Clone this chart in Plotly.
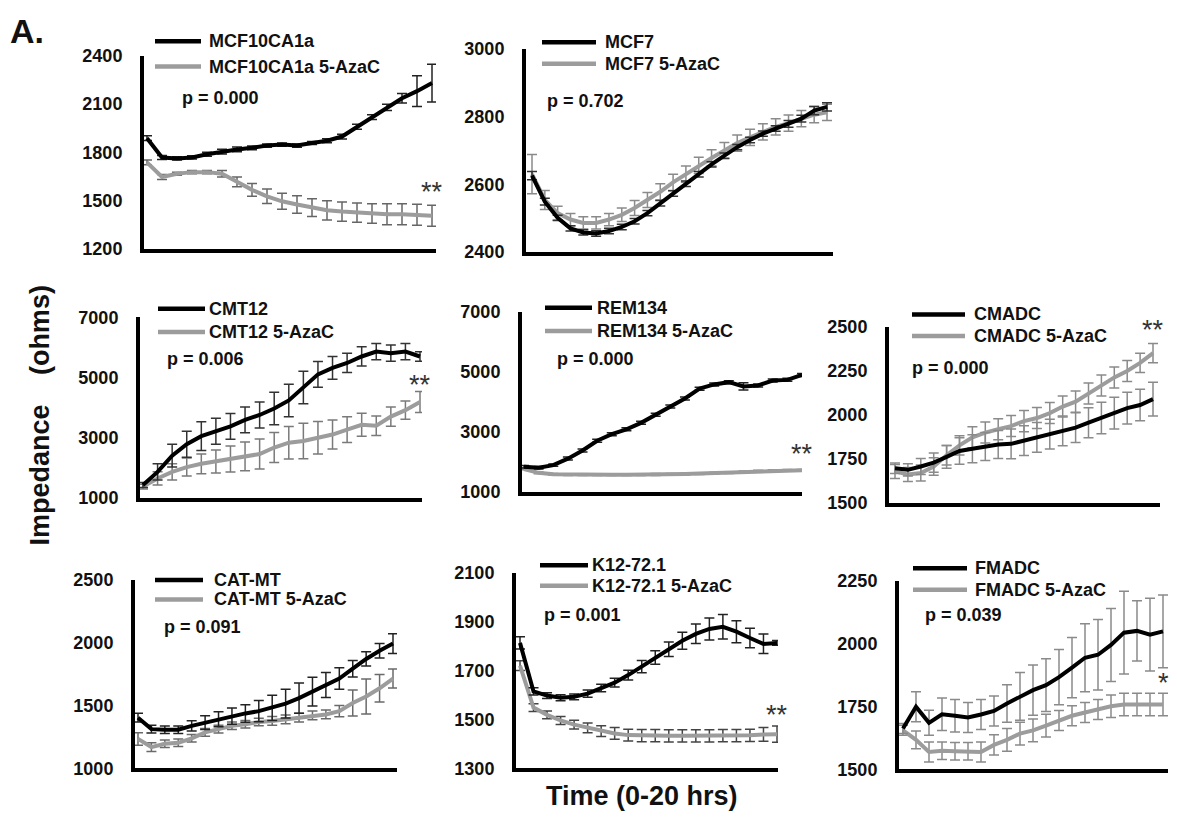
import numpy as np
import plotly.graph_objects as go

W, H = 1177, 831
FONT = "Liberation Sans, Arial, Helvetica, sans-serif"
BLACK = "#000000"
GRAY = "#9c9c9c"

# ---------------- impedance readings (ohms), untreated vs 5-AzaC ----------------
mcf10_ctrl = [1889, 1769, 1763, 1769, 1789, 1805, 1819, 1829, 1843, 1849,
              1843, 1859, 1873, 1899, 1960, 2020, 2080, 2137, 2181, 2231]
mcf10_ctrl_sd = [15, 12, 10, 10, 12, 15, 15, 12, 10, 10,
                 10, 10, 12, 15, 15, 15, 20, 30, 95, 117]
mcf10_aza = [1739, 1648, 1668, 1678, 1678, 1668, 1618, 1568, 1528, 1497,
             1477, 1457, 1441, 1433, 1427, 1421, 1417, 1417, 1413, 1407]
mcf10_aza_sd = [15, 15, 10, 10, 10, 20, 30, 40, 45, 50,
                55, 55, 60, 60, 60, 60, 65, 65, 65, 65]

mcf7_ctrl = [2626, 2549, 2501, 2470, 2458, 2455, 2462, 2474, 2491, 2515, 2544, 2573,
             2602, 2630, 2659, 2685, 2710, 2731, 2750, 2765, 2779, 2794, 2818, 2829]
mcf7_ctrl_sd = [12, 10, 8, 8, 8, 8, 8, 8, 8, 8, 8, 8,
                8, 8, 8, 8, 8, 8, 8, 8, 10, 10, 12, 12]
mcf7_aza = [2630, 2554, 2515, 2496, 2486, 2486, 2496, 2510, 2530, 2554, 2578, 2606,
            2630, 2656, 2678, 2700, 2722, 2739, 2755, 2770, 2781, 2794, 2806, 2813]
mcf7_aza_sd = [58, 28, 20, 18, 18, 18, 18, 20, 22, 22, 24, 24,
               24, 24, 24, 24, 24, 24, 24, 24, 24, 24, 24, 24]

cmt12_ctrl = [1432, 1865, 2405, 2784, 3054, 3216, 3378, 3594, 3757, 3973,
              4243, 4675, 5108, 5324, 5486, 5702, 5864, 5810, 5864, 5702]
cmt12_ctrl_sd = [80, 270, 380, 430, 480, 430, 430, 430, 430, 540,
                 540, 540, 430, 380, 320, 320, 270, 270, 270, 160]
cmt12_aza = [1378, 1649, 1865, 2027, 2135, 2211, 2297, 2384, 2460, 2676,
             2838, 2892, 3000, 3108, 3270, 3432, 3400, 3703, 3919, 4189]
cmt12_aza_sd = [80, 220, 270, 300, 330, 380, 430, 480, 500, 500,
                540, 590, 540, 480, 430, 380, 320, 320, 300, 350]

rem134_ctrl = [1843, 1811, 1897, 2113, 2384, 2708, 2924, 3086, 3302, 3573,
               3843, 4113, 4438, 4578, 4654, 4513, 4546, 4708, 4730, 4892]
rem134_ctrl_sd = [40, 40, 40, 50, 50, 50, 50, 50, 50, 50,
                  50, 50, 50, 50, 50, 120, 50, 50, 50, 50]
rem134_aza = [1770, 1640, 1590, 1580, 1580, 1580, 1580, 1580, 1580, 1585,
              1590, 1600, 1615, 1630, 1650, 1670, 1700, 1715, 1720, 1725]
rem134_aza_sd = [30, 30, 30, 30, 30, 30, 30, 30, 30, 30,
                 30, 30, 30, 30, 30, 30, 30, 30, 30, 30]

cmadc_ctrl = [1697, 1688, 1707, 1729, 1762, 1795, 1808, 1821, 1832, 1836, 1854,
              1873, 1891, 1910, 1928, 1956, 1983, 2011, 2039, 2057, 2090]
cmadc_ctrl_sd = [30, 35, 45, 55, 65, 75, 80, 80, 80, 85, 85,
                 85, 85, 85, 85, 85, 90, 90, 90, 90, 96]
cmadc_aza = [1679, 1661, 1670, 1707, 1771, 1827, 1873, 1900, 1919, 1937, 1965,
             1983, 2011, 2048, 2076, 2122, 2168, 2214, 2251, 2297, 2352]
cmadc_aza_sd = [40, 40, 45, 50, 55, 55, 60, 60, 60, 60, 60,
                60, 60, 60, 60, 60, 60, 60, 60, 55, 55]

catmt_ctrl = [1403, 1312, 1307, 1307, 1338, 1364, 1390, 1416, 1437, 1455,
              1481, 1515, 1559, 1611, 1663, 1715, 1793, 1871, 1936, 1993]
catmt_ctrl_sd = [35, 30, 30, 30, 40, 55, 60, 65, 70, 85,
                 100, 115, 120, 115, 100, 85, 65, 57, 57, 78]
catmt_aza = [1234, 1169, 1195, 1203, 1239, 1286, 1312, 1338, 1351, 1369,
             1377, 1390, 1403, 1421, 1429, 1455, 1520, 1572, 1637, 1715]
catmt_aza_sd = [50, 35, 30, 30, 30, 30, 30, 30, 30, 30,
                35, 35, 35, 35, 35, 45, 104, 140, 110, 75]

k12_ctrl = [1814, 1615, 1598, 1589, 1593, 1606, 1629, 1651, 1682, 1717,
            1754, 1788, 1823, 1851, 1871, 1880, 1860, 1834, 1810, 1814]
k12_ctrl_sd = [25, 15, 12, 12, 12, 15, 15, 18, 20, 25,
               28, 30, 35, 40, 45, 50, 45, 40, 40, 10]
k12_aza = [1721, 1549, 1519, 1496, 1479, 1466, 1452, 1443, 1436, 1434,
           1434, 1433, 1433, 1433, 1433, 1434, 1434, 1435, 1439, 1440]
k12_aza_sd = [20, 16, 16, 16, 18, 20, 22, 24, 24, 25,
              25, 25, 25, 25, 25, 25, 25, 25, 28, 33]

fmadc_ctrl = [1662, 1749, 1685, 1719, 1713, 1706, 1718, 1732, 1762, 1790, 1815,
              1835, 1867, 1905, 1944, 1956, 1995, 2044, 2051, 2036, 2049]
fmadc_ctrl_sd = [20, 60, 50, 65, 65, 60, 60, 60, 75, 95, 100,
                 105, 110, 120, 135, 140, 145, 165, 120, 145, 145]
fmadc_aza = [1655, 1617, 1569, 1574, 1572, 1572, 1569, 1597, 1617, 1642, 1655,
             1674, 1694, 1713, 1726, 1738, 1751, 1758, 1758, 1758, 1758]
fmadc_aza_sd = [20, 35, 40, 35, 35, 35, 40, 40, 45, 45, 45,
                45, 40, 40, 40, 40, 45, 45, 45, 45, 45]

# y-axis tick values
mcf10_ticks = [1200, 1500, 1800, 2100, 2400]
mcf7_ticks = [2400, 2600, 2800, 3000]
cmt12_ticks = [1000, 3000, 5000, 7000]
rem134_ticks = [1000, 3000, 5000, 7000]
cmadc_ticks = [1500, 1750, 2000, 2250, 2500]
catmt_ticks = [1000, 1500, 2000, 2500]
k12_ticks = [1300, 1500, 1700, 1900, 2100]
fmadc_ticks = [1500, 1750, 2000, 2250]

cell_lines = ["MCF10CA1a", "MCF7", "CMT12", "REM134", "CMADC", "CAT-MT", "K12-72.1", "FMADC"]
p_values = ["0.000", "0.702", "0.006", "0.000", "0.000", "0.091", "0.001", "0.039"]
sig_marks = ["**", "", "**", "**", "**", "", "**", "*"]
sig_levels = [1550, None, 4730, 2243, 2481, None, 1516, 1841]

series = [
    (mcf10_ctrl, mcf10_ctrl_sd, mcf10_aza, mcf10_aza_sd, mcf10_ticks),
    (mcf7_ctrl, mcf7_ctrl_sd, mcf7_aza, mcf7_aza_sd, mcf7_ticks),
    (cmt12_ctrl, cmt12_ctrl_sd, cmt12_aza, cmt12_aza_sd, cmt12_ticks),
    (rem134_ctrl, rem134_ctrl_sd, rem134_aza, rem134_aza_sd, rem134_ticks),
    (cmadc_ctrl, cmadc_ctrl_sd, cmadc_aza, cmadc_aza_sd, cmadc_ticks),
    (catmt_ctrl, catmt_ctrl_sd, catmt_aza, catmt_aza_sd, catmt_ticks),
    (k12_ctrl, k12_ctrl_sd, k12_aza, k12_aza_sd, k12_ticks),
    (fmadc_ctrl, fmadc_ctrl_sd, fmadc_aza, fmadc_aza_sd, fmadc_ticks),
]

# ---------------- panel geometry in page pixels ----------------
# box: (left axis x, right end x, top tick y, bottom tick y); data: first/last sample x
# legend: (sample x0, sample x1, text x, row1 y, row2 y); ptext: (x, y)
geometry = [
    dict(box=(144, 436, 47, 245), data=(147, 432), legend=(155, 201, 207, 32, 58), ptext=(180, 90),
         ctrl_err="#222222", aza_err="#666666"),
    dict(box=(526, 833, 40, 248), data=(532, 827), legend=(542, 596, 603, 33, 55), ptext=(545, 93),
         ctrl_err="#333333", aza_err="#8a8a8a"),
    dict(box=(140, 422, 315, 500), data=(143, 420), legend=(158, 205, 207, 306, 330), ptext=(165, 358),
         ctrl_err="#333333", aza_err="#7a7a7a"),
    dict(box=(522, 802, 309, 494), data=(524, 802), legend=(545, 592, 595, 305, 329), ptext=(555, 358),
         ctrl_err="#222222", aza_err="#8a8a8a"),
    dict(box=(889, 1160, 325, 505), data=(895, 1153), legend=(912, 965, 972, 312, 334), ptext=(910, 367),
         ctrl_err="#8a8a8a", aza_err="#8a8a8a"),
    dict(box=(135, 397, 584, 777), data=(138, 393), legend=(155, 203, 212, 584, 604), ptext=(162, 632),
         ctrl_err="#222222", aza_err="#6a6a6a"),
    dict(box=(516, 778, 577, 777), data=(520, 777), legend=(540, 588, 590, 569, 590), ptext=(542, 620),
         ctrl_err="#222222", aza_err="#444444"),
    dict(box=(899, 1168, 585, 778), data=(903, 1163), legend=(913, 967, 973, 572, 594), ptext=(923, 620),
         ctrl_err="#8a8a8a", aza_err="#8a8a8a"),
]


def px(x):
    return x / W


def py(y):
    return 1 - y / H


fig = go.Figure()
annotations = []
shapes = []

for k, ((ctrl, ctrl_sd, aza, aza_sd, ticks), g, name, pval, mark, mark_y) in enumerate(
        zip(series, geometry, cell_lines, p_values, sig_marks, sig_levels), start=1):
    suffix = "" if k == 1 else str(k)
    xa, ya = "x" + suffix, "y" + suffix
    n = len(ctrl)
    hours = np.linspace(0, 20, n)

    fig.add_trace(go.Scatter(
        x=hours, y=aza, mode="lines", name=f"{name} 5-AzaC",
        line=dict(color=GRAY, width=4),
        error_y=dict(type="data", array=aza_sd, visible=True, color=g["aza_err"], thickness=1.5, width=5),
        xaxis=xa, yaxis=ya, showlegend=False))
    fig.add_trace(go.Scatter(
        x=hours, y=ctrl, mode="lines", name=name,
        line=dict(color=BLACK, width=4),
        error_y=dict(type="data", array=ctrl_sd, visible=True, color=g["ctrl_err"], thickness=1.5, width=5),
        xaxis=xa, yaxis=ya, showlegend=False))

    x0, x1, yt, yb = g["box"]
    ds, de = g["data"]
    r0 = (x0 - ds) / (de - ds) * 20
    r1 = (x1 - ds) / (de - ds) * 20

    fig.layout["xaxis" + suffix] = dict(
        domain=[px(x0), px(x1)], range=[r0, r1], anchor=ya,
        showline=True, linecolor="black", linewidth=4,
        showgrid=False, zeroline=False, showticklabels=False, ticks="")
    fig.layout["yaxis" + suffix] = dict(
        domain=[py(yb), py(yt)], range=[ticks[0], ticks[-1]], anchor=xa,
        tickvals=ticks, ticks="outside", ticklen=14, tickcolor="rgba(0,0,0,0)",
        tickfont=dict(family=FONT, size=18, color="#111111", weight="bold"),
        showline=True, linecolor="black", linewidth=4,
        showgrid=False, zeroline=False)

    # legend rows
    lx0, lx1, tx, r1y, r2y = g["legend"]
    for color, yy, label in ((BLACK, r1y, name), (GRAY, r2y, f"{name} 5-AzaC")):
        shapes.append(dict(type="line", xref="paper", yref="paper",
                           x0=px(lx0), x1=px(lx1), y0=py(yy), y1=py(yy),
                           line=dict(color=color, width=4.5)))
        annotations.append(dict(text=label, xref="paper", yref="paper", x=px(tx), y=py(yy),
                                xanchor="left", yanchor="middle", showarrow=False,
                                font=dict(family=FONT, size=18, color="#111111", weight="bold")))

    ptx, pty = g["ptext"]
    annotations.append(dict(text=f"p = {pval}", xref="paper", yref="paper", x=px(ptx), y=py(pty),
                            xanchor="left", yanchor="middle", showarrow=False,
                            font=dict(family=FONT, size=18, color="#111111", weight="bold")))

    if mark:
        annotations.append(dict(text=mark, xref=xa, yref=ya, x=hours[-1], y=mark_y,
                                xanchor="center", yanchor="middle", yshift=1, showarrow=False,
                                font=dict(family=FONT, size=27, color="#333333")))

# figure-level labels
annotations.append(dict(text="A.", xref="paper", yref="paper", x=px(8), y=py(22),
                        xanchor="left", yanchor="middle", showarrow=False,
                        font=dict(family=FONT, size=34, color="#111111", weight="bold")))
annotations.append(dict(text="Impedance", xref="paper", yref="paper", x=px(40), y=py(477),
                        xanchor="center", yanchor="middle", textangle=-90, showarrow=False,
                        font=dict(family=FONT, size=27, color="#111111", weight="bold")))
annotations.append(dict(text="(ohms)", xref="paper", yref="paper", x=px(40), y=py(328),
                        xanchor="center", yanchor="middle", textangle=-90, showarrow=False,
                        font=dict(family=FONT, size=27, color="#111111", weight="bold")))
annotations.append(dict(text="Time (0-20 hrs)", xref="paper", yref="paper", x=px(642), y=py(805),
                        xanchor="center", yanchor="middle", showarrow=False,
                        font=dict(family=FONT, size=27, color="#111111", weight="bold")))

fig.update_layout(
    width=W, height=H, margin=dict(l=0, r=0, t=0, b=0),
    paper_bgcolor="white", plot_bgcolor="white",
    showlegend=False, annotations=annotations, shapes=shapes,
    font=dict(family=FONT),
)

fig.write_html("out.html")
